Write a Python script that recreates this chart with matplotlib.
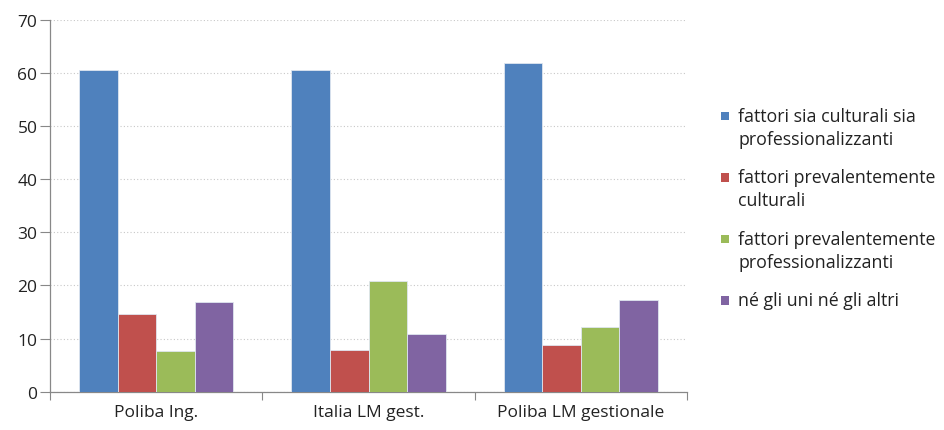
import matplotlib
matplotlib.use("Agg")
import matplotlib.pyplot as plt
from matplotlib.patches import Rectangle
import numpy as np

categories = ["Poliba Ing.", "Italia LM gest.", "Poliba LM gestionale"]
series_names = [
    "fattori sia culturali sia\nprofessionalizzanti",
    "fattori prevalentemente\nculturali",
    "fattori prevalentemente\nprofessionalizzanti",
    "né gli uni né gli altri",
]
values = [
    [60.5, 60.5, 61.8],   # sia culturali sia professionalizzanti
    [14.7, 7.9, 8.8],     # prevalentemente culturali
    [7.6, 20.8, 12.1],    # prevalentemente professionalizzanti
    [16.8, 10.9, 17.2],   # né gli uni né gli altri
]
colors = ["#4F81BD", "#C0504D", "#9BBB59", "#8064A2"]
yticks = [0, 10, 20, 30, 40, 50, 60, 70]

plt.rcParams["font.family"] = ["Open Sans", "DejaVu Sans"]

W, H = 944, 431
fig = plt.figure(figsize=(W / 100, H / 100), dpi=100)
ax = fig.add_axes([50 / W, 1 - 392.7 / H, (687 - 50) / W, (392.7 - 20.7) / H])

n = len(series_names)
group_w = 0.727
bw = group_w / n
x = np.arange(len(categories))
for i, (name, vals, c) in enumerate(zip(series_names, values, colors)):
    offs = -group_w / 2 + bw * (i + 0.5)
    ax.bar(x + offs, vals, width=bw, color=c, edgecolor="#dfe6f0",
           linewidth=0.6, label=name, zorder=3)

ax.set_xlim(-0.5, len(categories) - 0.5)
ax.set_ylim(0, 70)
ax.set_yticks(yticks)
ax.set_yticklabels([str(t) for t in yticks], fontsize=12.5, color="#222222")
ax.set_xticks(x)
ax.set_xticklabels(categories, fontsize=12.5, color="#222222")
ax.tick_params(axis="x", length=0, pad=9)
ax.tick_params(axis="y", length=7, color="#888888", width=0.8, pad=2)

# category separator ticks below the axis
ax.set_xticks(np.arange(-0.5, len(categories)), minor=True)
ax.tick_params(axis="x", which="minor", length=6, color="#888888", width=0.8)

ax.grid(axis="y", linestyle=(0, (1, 2)), color="#c8c8c8", linewidth=0.8, zorder=0)
for s in ["top", "right"]:
    ax.spines[s].set_visible(False)
ax.spines["left"].set_color("#888888")
ax.spines["bottom"].set_color("#888888")
ax.spines["left"].set_linewidth(0.9)
ax.spines["bottom"].set_linewidth(0.9)

# legend: square swatch aligned with the first line of each entry
line_h, entry_gap = 23, 15.5
sq = 8.5
y = 117.0
for name, c in zip(series_names, colors):
    lines = name.split("\n")
    fig.patches.append(Rectangle((720.5 / W, 1 - (y + sq / 2) / H), sq / W, sq / H,
                                 transform=fig.transFigure, facecolor=c,
                                 edgecolor="none"))
    for k, ln in enumerate(lines):
        fig.text(738 / W, 1 - (y + k * line_h) / H, ln, fontsize=12.8,
                 color="#222222", va="center", ha="left")
    y += len(lines) * line_h + entry_gap

fig.savefig("out.png", dpi=100)
